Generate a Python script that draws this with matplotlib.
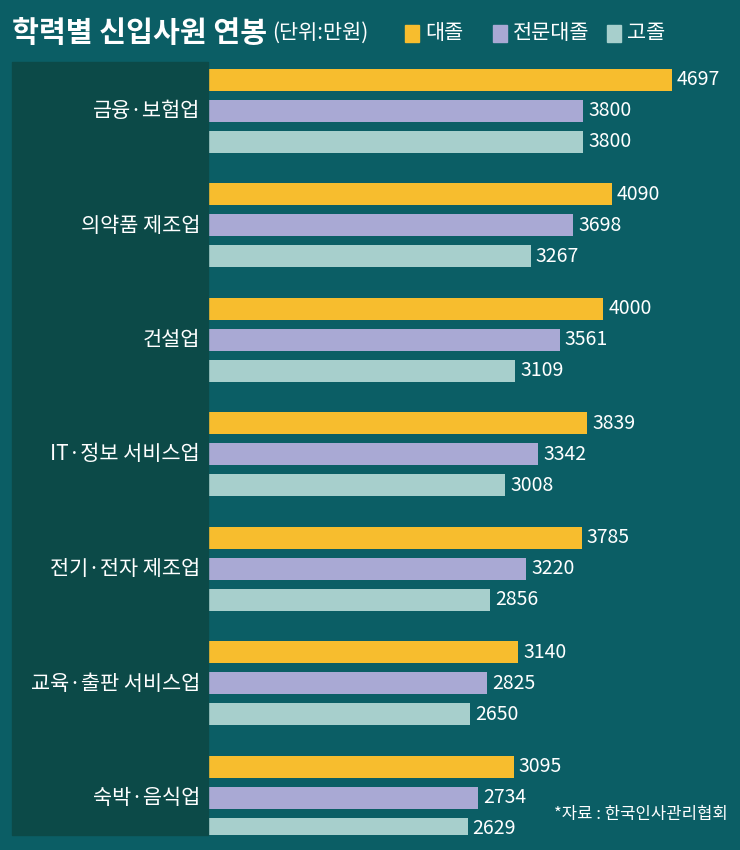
import matplotlib
matplotlib.use("Agg")
import matplotlib.pyplot as plt
from matplotlib.patches import Rectangle

plt.rcParams['font.family'] = ['Noto Sans CJK KR', 'DejaVu Sans']

categories = ["금융·보험업", "의약품 제조업", "건설업", "IT·정보 서비스업", "전기·전자 제조업", "교육·출판 서비스업", "숙박·음식업"]
series_names = ["대졸", "전문대졸", "고졸"]
daejol = [4697, 4090, 4000, 3839, 3785, 3140, 3095]
jeonmun = [3800, 3698, 3561, 3342, 3220, 2825, 2734]
gojol = [3800, 3267, 3109, 3008, 2856, 2650, 2629]
colors = ["#f7bd2e", "#a9a9d4", "#a7cfcc"]

W, H = 740, 850
fig = plt.figure(figsize=(7.4, 8.5), dpi=100)
bg = "#0b5e65"
fig.patch.set_facecolor(bg)
fig.patches.append(Rectangle((12/W, 1-835/H), (208-12)/W, (835-62)/H, transform=fig.transFigure, color="#0c4a48", zorder=0))

ax = fig.add_axes([208/W, 1-835/H, 1-208/W, (835-62)/H])
ax.set_facecolor("none")
ax.set_xlim(0, (740-208)/0.0988)
ax.set_ylim(835, 62)
ax.axis("off")

group_step = 114.5
for i, cat in enumerate(categories):
    for j, vals in enumerate([daejol, jeonmun, gojol]):
        y = 80 + i*group_step + j*31
        ax.barh(y, vals[i], height=22, color=colors[j])
        ax.text(vals[i] + 50, y, str(vals[i]), color="white", va="center", ha="left", fontsize=14)
    fig.text(200/W, 1-(111 + i*group_step)/H, cat, color="white", ha="right", va="center", fontsize=15)

fig.text(12/W, 1-33/H, "학력별 신입사원 연봉", color="white", fontsize=21, fontweight="bold", va="center")
fig.text(272/W, 1-33/H, "(단위:만원)", color="white", fontsize=15, va="center")
lx = [405, 493, 607]
for k, name in enumerate(series_names):
    fig.patches.append(Rectangle((lx[k]/W, 1-42/H), 14/W, 17/H, transform=fig.transFigure, color=colors[k]))
    fig.text((lx[k]+20)/W, 1-33/H, name, color="white", fontsize=15, va="center")

fig.text(728/W, 1-814/H, "*자료 : 한국인사관리협회", color="white", fontsize=12, ha="right", va="center")
fig.savefig("out.png", dpi=100, facecolor=bg)
